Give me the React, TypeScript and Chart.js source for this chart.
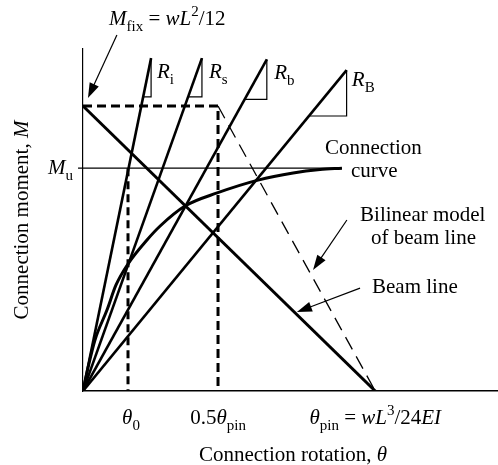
import React, { useEffect, useRef } from "react";
import { Chart, registerables } from "chart.js";

Chart.register(...registerables);

// ---- Data (θ in units of θpin, M in units of Mfix) ----
const X_MAX = 1.42;
const Y_MAX = 1.2;
const THETA_0 = 0.154;
const THETA_HALF = 0.462;
const THETA_PIN = 1.0;
const M_FIX = 1.0;
const M_U = 0.782;
const MU_LINE_END = 0.886;

const beamLineX = [0, THETA_PIN];
const beamLineY = [M_FIX, 0];

const bilinearX = [THETA_HALF, THETA_PIN];
const bilinearY = [M_FIX, 0];

const stiffnessNames = ["i", "s", "b", "B"];
const stiffnessTopX = [0.233, 0.407, 0.629, 0.902];
const stiffnessTopY = [1.168, 1.168, 1.164, 1.126];
const triangleBaseY = [1.032, 1.032, 1.023, 0.965];

const curveX = [0, 0.017, 0.041, 0.082, 0.113, 0.154, 0.219, 0.264, 0.349, 0.459, 0.599, 0.719, 0.811, 0.886];
const curveY = [0, 0.081, 0.179, 0.284, 0.372, 0.446, 0.53, 0.579, 0.649, 0.695, 0.74, 0.765, 0.777, 0.782];

const FONT = '"Liberation Serif", "Times New Roman", Times, serif';

type Seg = { t: string; i?: boolean; sub?: boolean; sup?: boolean };

function drawRich(
  ctx: CanvasRenderingContext2D,
  segs: Seg[],
  x: number,
  y: number,
  align: "left" | "center" | "right",
  size: number
) {
  const f = (s: Seg) =>
    `${s.i ? "italic " : ""}${s.sub || s.sup ? Math.round(size * 0.7) : size}px ${FONT}`;
  const widths = segs.map((s) => {
    ctx.font = f(s);
    return ctx.measureText(s.t).width;
  });
  const total = widths.reduce((a, b) => a + b, 0);
  let cx = align === "left" ? x : align === "center" ? x - total / 2 : x - total;
  ctx.textAlign = "left";
  ctx.textBaseline = "alphabetic";
  ctx.fillStyle = "#000";
  segs.forEach((s, k) => {
    ctx.font = f(s);
    const dy = s.sub ? size * 0.28 : s.sup ? -size * 0.42 : 0;
    ctx.fillText(s.t, cx, y + dy);
    cx += widths[k];
  });
}

function arrow(ctx: CanvasRenderingContext2D, x1: number, y1: number, x2: number, y2: number) {
  const ang = Math.atan2(y2 - y1, x2 - x1);
  const L = 15;
  const W = 5;
  ctx.save();
  ctx.strokeStyle = "#000";
  ctx.fillStyle = "#000";
  ctx.lineWidth = 1.2;
  ctx.setLineDash([]);
  ctx.beginPath();
  ctx.moveTo(x1, y1);
  ctx.lineTo(x2 - Math.cos(ang) * L * 0.8, y2 - Math.sin(ang) * L * 0.8);
  ctx.stroke();
  ctx.beginPath();
  ctx.moveTo(x2, y2);
  ctx.lineTo(x2 - Math.cos(ang) * L - Math.sin(ang) * W, y2 - Math.sin(ang) * L + Math.cos(ang) * W);
  ctx.lineTo(x2 - Math.cos(ang) * L + Math.sin(ang) * W, y2 - Math.sin(ang) * L - Math.cos(ang) * W);
  ctx.closePath();
  ctx.fill();
  ctx.restore();
}

const annotations = {
  id: "annotations",
  afterDraw(chart: any) {
    const ctx: CanvasRenderingContext2D = chart.ctx;
    const xs = chart.scales.x;
    const ys = chart.scales.y;
    const px = (v: number) => xs.getPixelForValue(v);
    const py = (v: number) => ys.getPixelForValue(v);
    const S = 21;
    ctx.save();

    // arrows
    arrow(ctx, px(0.116), py(1.249), px(0.017), py(1.028));
    arrow(ctx, px(0.903), py(0.6), px(0.787), py(0.425));
    arrow(ctx, px(0.948), py(0.361), px(0.732), py(0.277));

    // top label
    drawRich(
      ctx,
      [{ t: "M", i: true }, { t: "fix", sub: true }, { t: " = " }, { t: "wL", i: true }, { t: "2", sup: true }, { t: "/12" }],
      px(0.089),
      py(1.284),
      "left",
      S
    );

    // stiffness labels
    const rx = [0.253, 0.431, 0.654, 0.92];
    const ry = [1.098, 1.098, 1.095, 1.07];
    stiffnessNames.forEach((n, k) => {
      drawRich(ctx, [{ t: "R", i: true }, { t: n, sub: true }], px(rx[k]), py(ry[k]), "left", S);
    });

    // Mu label
    drawRich(ctx, [{ t: "M", i: true }, { t: "u", sub: true }], px(0) - 10, py(M_U) + 6, "right", S);

    // in-plot labels
    drawRich(ctx, [{ t: "Connection" }], px(0.828), py(0.8316), "left", S);
    drawRich(ctx, [{ t: "curve" }], px(0.917), py(0.751), "left", S);
    drawRich(ctx, [{ t: "Bilinear model" }], px(0.948), py(0.5965), "left", S);
    drawRich(ctx, [{ t: "of beam line" }], px(0.9855), py(0.5158), "left", S);
    drawRich(ctx, [{ t: "Beam line" }], px(0.989), py(0.344), "left", S);

    // x tick labels
    const tickY = ys.bottom + 33;
    drawRich(ctx, [{ t: "θ", i: true }, { t: "0", sub: true }], px(THETA_0) + 3, tickY, "center", S);
    drawRich(ctx, [{ t: "0.5" }, { t: "θ", i: true }, { t: "pin", sub: true }], px(THETA_HALF), tickY, "center", S);
    drawRich(
      ctx,
      [{ t: "θ", i: true }, { t: "pin", sub: true }, { t: " = " }, { t: "wL", i: true }, { t: "3", sup: true }, { t: "/24" }, { t: "EI", i: true }],
      px(THETA_PIN),
      tickY,
      "center",
      S
    );

    // axis titles
    drawRich(ctx, [{ t: "Connection rotation, " }, { t: "θ", i: true }], 293, ys.bottom + 70, "center", S);
    ctx.translate(28, 220);
    ctx.rotate(-Math.PI / 2);
    drawRich(ctx, [{ t: "Connection moment, " }, { t: "M", i: true }], 0, 0, "center", S);
    ctx.restore();
  },
};

const pts = (xs: number[], ys: number[]) => xs.map((x, i) => ({ x, y: ys[i] }));

export default function App() {
  const ref = useRef<HTMLCanvasElement>(null);
  useEffect(() => {
    const canvas = ref.current!;
    const line = (data: any[], w: number, dash: number[] = [], extra: any = {}) => ({
      data,
      borderColor: "#000",
      backgroundColor: "#000",
      borderWidth: w,
      borderDash: dash,
      pointRadius: 0,
      showLine: true,
      fill: false,
      borderCapStyle: "butt",
      ...extra,
    });

    const datasets: any[] = [];
    // Mu line
    datasets.push(line(pts([-0.017, MU_LINE_END], [M_U, M_U]), 1.2, [], { clip: false }));
    // stiffness lines and triangles
    stiffnessTopX.forEach((tx, k) => {
      const ty = stiffnessTopY[k];
      const by = triangleBaseY[k];
      datasets.push(line(pts([0, tx], [0, ty]), 2.6));
      datasets.push(line(pts([(tx * by) / ty, tx, tx], [by, by, ty]), 1.2));
    });
    // beam line
    datasets.push(line(pts(beamLineX, beamLineY), 3));
    // bilinear model (thin dashed)
    datasets.push(line(pts(bilinearX, bilinearY), 1.3, [14, 8]));
    // thick dashed: Mfix plateau & verticals
    datasets.push(line(pts([0, THETA_HALF, THETA_HALF], [M_FIX, M_FIX, 0]), 3, [9, 5]));
    datasets.push(line(pts([THETA_0, THETA_0], [M_U, 0]), 3, [8, 5]));
    // connection curve
    datasets.push(line(pts(curveX, curveY), 3, [], { cubicInterpolationMode: "monotone" }));

    const chart = new Chart(canvas, {
      type: "scatter",
      data: { datasets },
      options: {
        animation: false,
        responsive: false,
        events: [],
        layout: { padding: { left: 83, top: 49, right: 0, bottom: 74 } },
        plugins: { legend: { display: false }, tooltip: { enabled: false } },
        scales: {
          x: {
            type: "linear",
            min: 0,
            max: X_MAX,
            ticks: { display: false },
            grid: { display: false, drawTicks: false },
            border: { display: true, color: "#000", width: 1.6 },
          },
          y: {
            type: "linear",
            min: 0,
            max: Y_MAX,
            ticks: { display: false },
            grid: { display: false, drawTicks: false },
            border: { display: true, color: "#000", width: 1.2 },
          },
        },
      } as any,
      plugins: [annotations],
    });
    return () => chart.destroy();
  }, []);

  return (
    <div style={{ position: "absolute", left: 0, top: 0, width: 498, height: 465, background: "#fff" }}>
      <canvas ref={ref} width={498} height={465} style={{ display: "block" }} />
    </div>
  );
}
